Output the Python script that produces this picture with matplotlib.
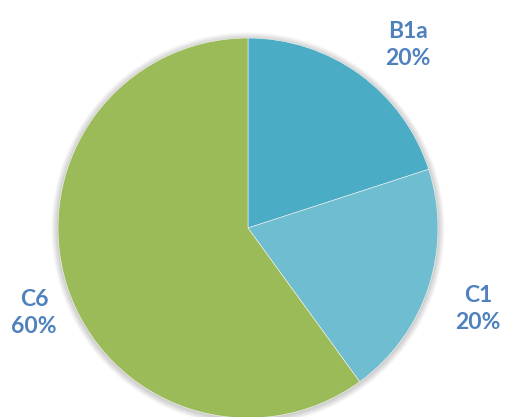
import matplotlib.pyplot as plt
from matplotlib.patches import Circle

labels = ['B1a', 'C1', 'C6']
shares = [20, 20, 60]
colors = ['#4bacc6', '#6fbdd1', '#9bbb59']

label_pos = {'B1a': (408, 372), 'C1': (478, 108), 'C6': (34, 104)}
text_color = '#4f81bd'

fig = plt.figure(figsize=(5.07, 4.17), dpi=100)
ax = fig.add_axes([0, 0, 1, 1])
ax.set_xlim(0, 507)
ax.set_ylim(0, 417)
ax.set_aspect('equal')
ax.axis('off')

cx, cy, r = 248, 189, 190

# soft shadow under the pie
for i in range(8):
    ax.add_patch(Circle((cx, cy - 1), r + 1 + i * 0.8, color='black',
                        alpha=0.025, lw=0, zorder=0))

ax.pie(shares, colors=colors, startangle=90, counterclock=False,
       center=(cx, cy), radius=r, frame=True,
       wedgeprops=dict(edgecolor='#f4f4f4', linewidth=0.4))
ax.set_xlim(0, 507)
ax.set_ylim(0, 417)
ax.axis('off')

for lab, val in zip(labels, shares):
    x, y = label_pos[lab]
    ax.text(x, y, f'{lab}\n{val}%', ha='center', va='center',
            fontsize=16.5, fontweight='bold', color=text_color,
            family='Lato', linespacing=1.35)

fig.savefig('out.png', dpi=100)
